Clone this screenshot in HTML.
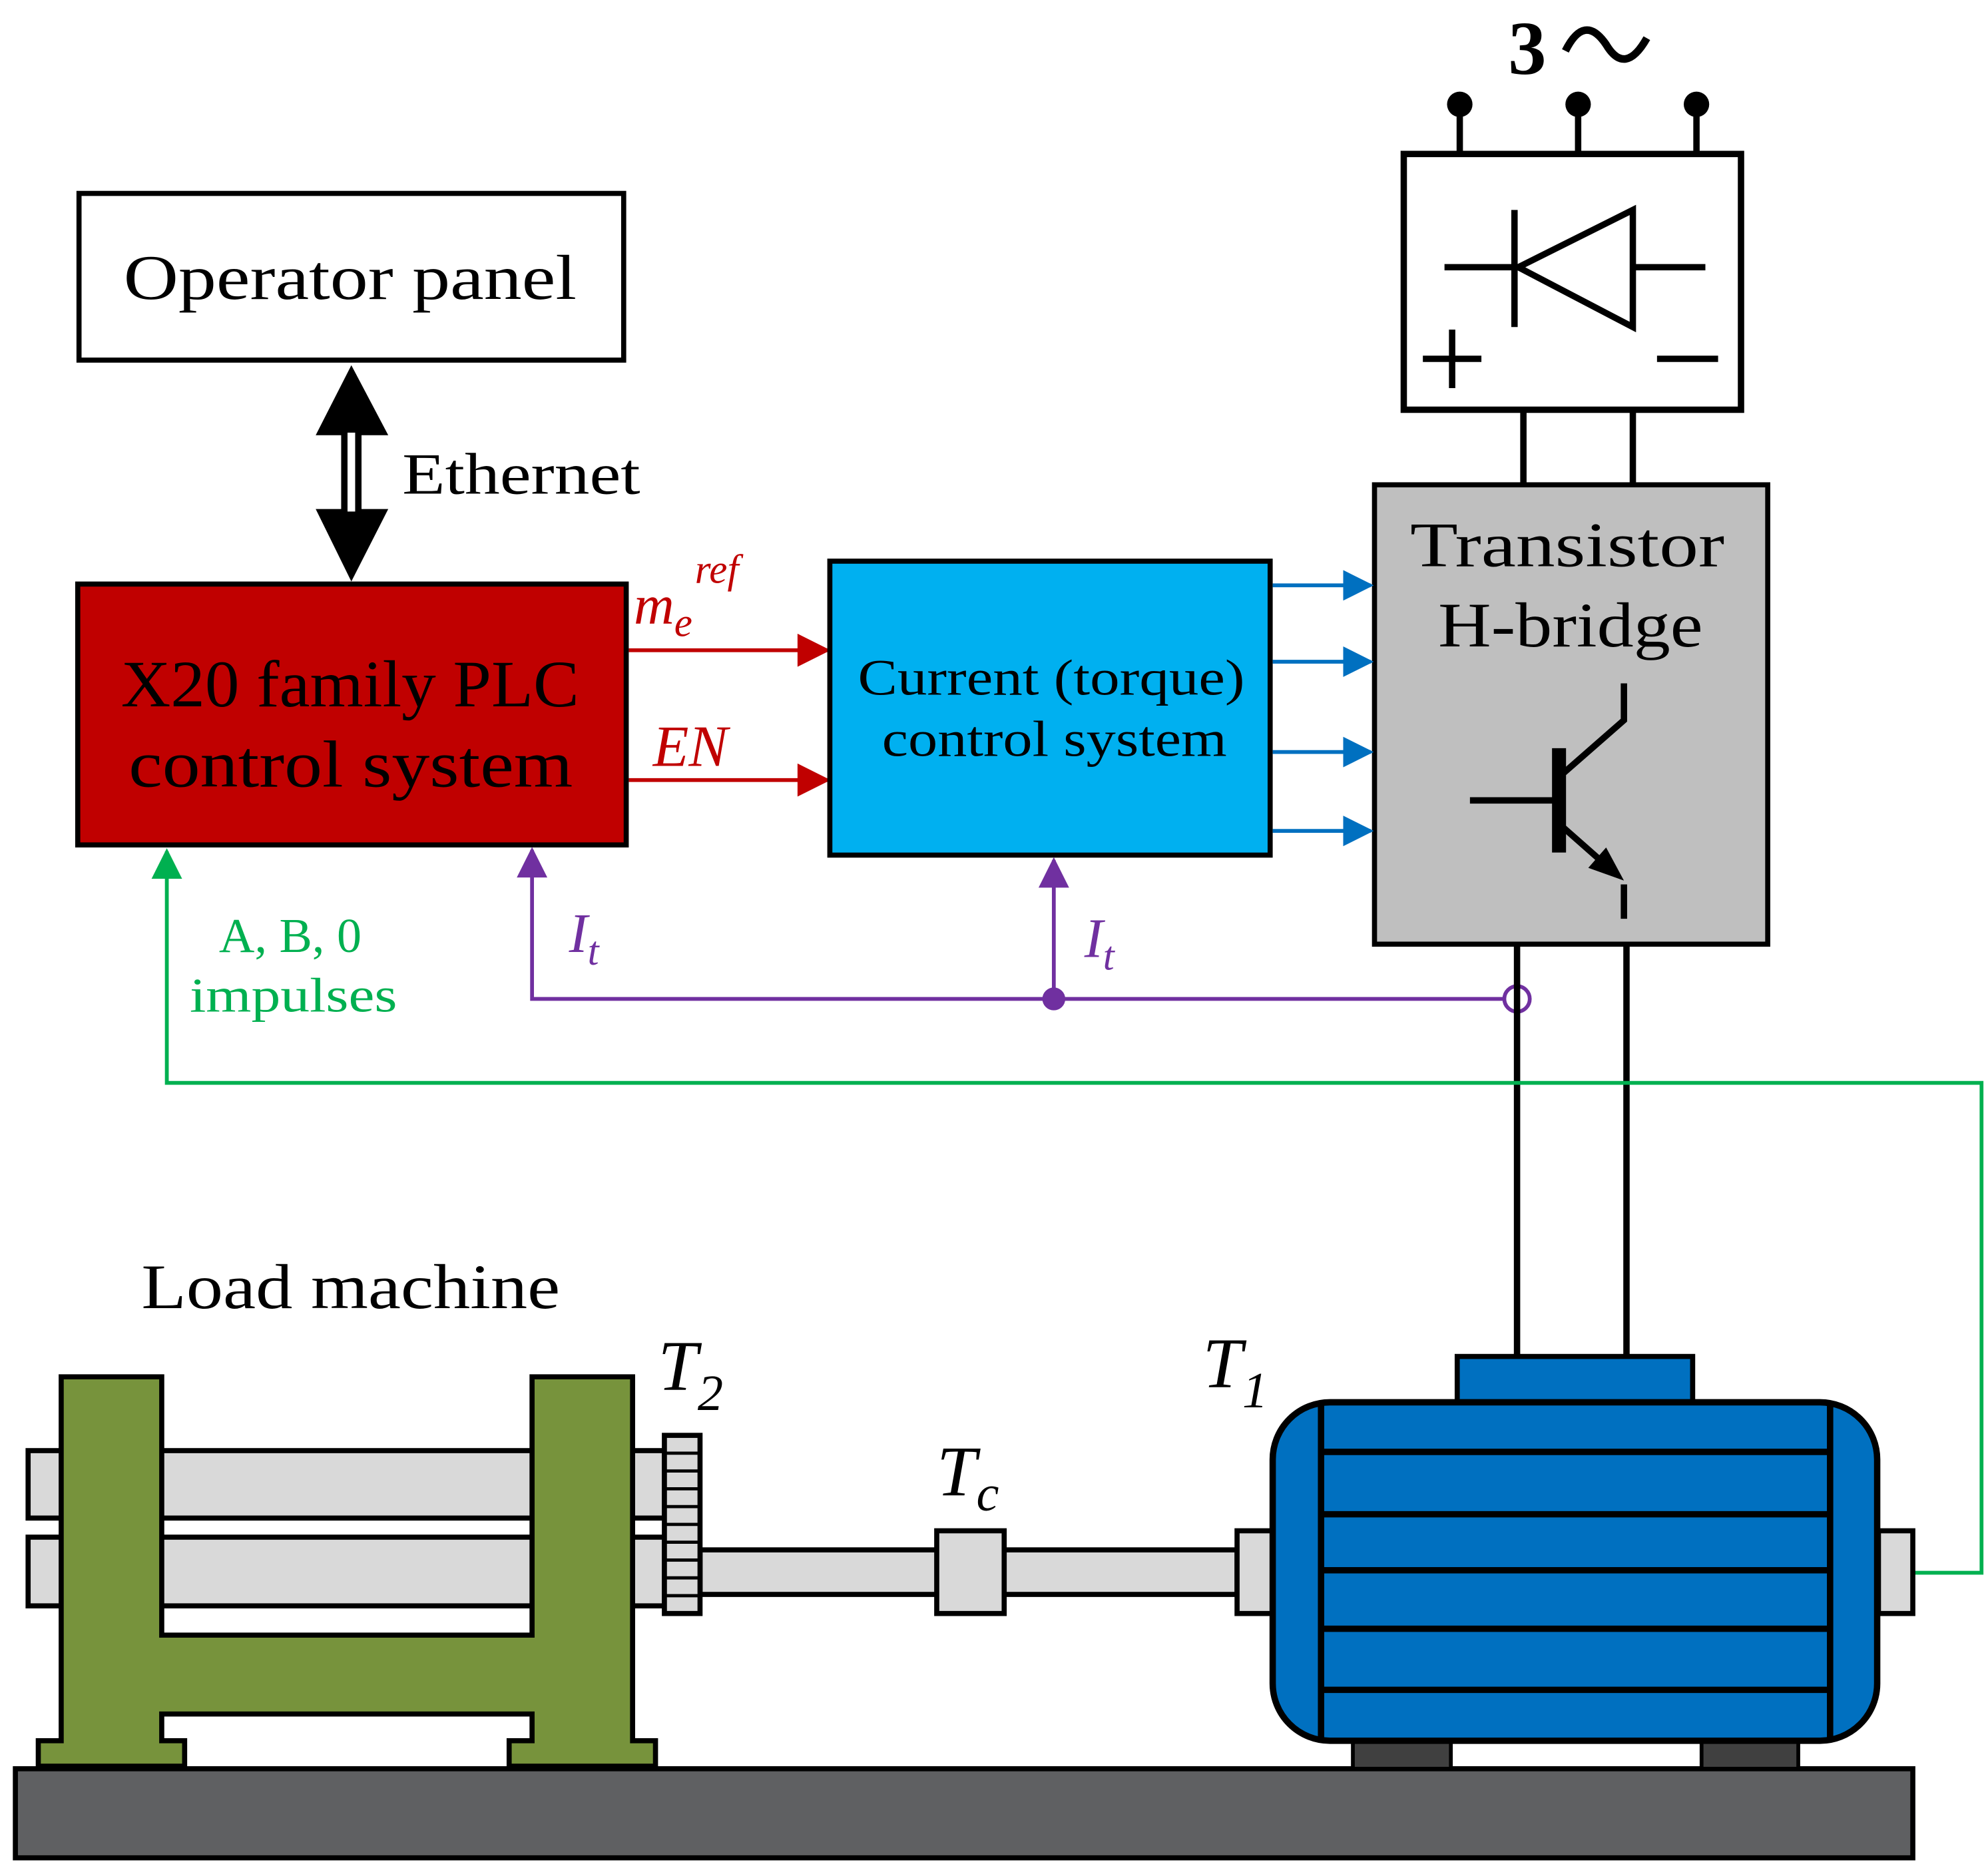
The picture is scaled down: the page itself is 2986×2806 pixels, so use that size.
<!DOCTYPE html>
<html><head><meta charset="utf-8"><style>html,body{margin:0;padding:0;background:#fff}svg{display:block}</style></head><body>
<svg width="2986" height="2806" viewBox="0 0 1562 1468" xmlns="http://www.w3.org/2000/svg" font-family="Liberation Serif, serif">
<defs>
<marker id="ar" viewBox="0 0 10 10" refX="9" refY="5" markerUnits="userSpaceOnUse" markerWidth="27" markerHeight="26" orient="auto"><path d="M0,0L10,5L0,10z" fill="#c00000"/></marker>
<marker id="ab" viewBox="0 0 10 10" refX="9" refY="5" markerUnits="userSpaceOnUse" markerWidth="26" markerHeight="24" orient="auto"><path d="M0,0L10,5L0,10z" fill="#0070c0"/></marker>
<marker id="ap" viewBox="0 0 10 10" refX="9" refY="5" markerUnits="userSpaceOnUse" markerWidth="26" markerHeight="24" orient="auto"><path d="M0,0L10,5L0,10z" fill="#7030a0"/></marker>
<marker id="ag" viewBox="0 0 10 10" refX="9" refY="5" markerUnits="userSpaceOnUse" markerWidth="26" markerHeight="24" orient="auto"><path d="M0,0L10,5L0,10z" fill="#00b050"/></marker>
</defs>
<!-- supply -->
<text x="1185" y="58" font-size="60" font-weight="bold">3</text>
<path d="M1230,40 q15,-30 32,-5 q15,25 32,-5" fill="none" stroke="#000" stroke-width="6"/>
<g stroke="#000" stroke-width="5">
<line x1="1147" y1="82" x2="1147" y2="121"/><line x1="1240" y1="82" x2="1240" y2="121"/><line x1="1333" y1="82" x2="1333" y2="121"/>
</g>
<circle cx="1147" cy="82" r="10"/><circle cx="1240" cy="82" r="10"/><circle cx="1333" cy="82" r="10"/>
<rect x="1103" y="121" width="265" height="201" fill="#fff" stroke="#000" stroke-width="5"/>
<g stroke="#000" stroke-width="5" fill="none">
<line x1="1135" y1="210" x2="1193" y2="210"/><line x1="1283" y1="210" x2="1340" y2="210"/>
<line x1="1190" y1="165" x2="1190" y2="257"/>
<path d="M1193,210L1283,165L1283,257Z"/>
<line x1="1118" y1="282" x2="1164" y2="282"/><line x1="1141" y1="259" x2="1141" y2="305"/>
<line x1="1302" y1="282" x2="1350" y2="282"/>
<line x1="1197" y1="322" x2="1197" y2="381"/><line x1="1283" y1="322" x2="1283" y2="381"/>
</g>
<!-- H-bridge -->
<rect x="1080" y="381" width="309" height="361" fill="#bfbfbf" stroke="#000" stroke-width="4"/>
<text x="1108" y="445" font-size="50" textLength="247" lengthAdjust="spacingAndGlyphs">Transistor</text>
<text x="1130" y="508" font-size="50" textLength="208" lengthAdjust="spacingAndGlyphs">H-bridge</text>
<g stroke="#000" stroke-width="5" fill="none">
<line x1="1155" y1="629" x2="1222" y2="629"/>
<line x1="1225" y1="588" x2="1225" y2="670" stroke-width="11"/>
<polyline points="1228,608 1276,566 1276,537"/>
<line x1="1228" y1="650" x2="1262" y2="680"/>
<line x1="1276" y1="695" x2="1276" y2="722"/>
</g>
<path d="M1276,692L1248,682L1262,666Z"/>
<!-- Operator panel -->
<rect x="62" y="152" width="428" height="131" fill="#fff" stroke="#000" stroke-width="4"/>
<text x="97" y="235" font-size="50" textLength="356" lengthAdjust="spacingAndGlyphs">Operator panel</text>
<path d="M276,287L305,342L248,342Z"/><path d="M276,457L305,400L248,400Z"/>
<rect x="268" y="340" width="16" height="62" fill="#000"/><rect x="273" y="340" width="6" height="62" fill="#fff"/>
<text x="316" y="388" font-size="46" textLength="187" lengthAdjust="spacingAndGlyphs">Ethernet</text>
<!-- PLC -->
<rect x="61" y="459" width="431" height="205" fill="#c00000" stroke="#000" stroke-width="4"/>
<text x="95" y="555" font-size="52" textLength="360" lengthAdjust="spacingAndGlyphs">X20 family PLC</text>
<text x="101" y="618" font-size="52" textLength="349" lengthAdjust="spacingAndGlyphs">control system</text>
<g stroke="#c00000" stroke-width="3">
<line x1="494" y1="511" x2="650" y2="511" marker-end="url(#ar)"/>
<line x1="494" y1="613" x2="650" y2="613" marker-end="url(#ar)"/>
</g>
<text x="498" y="490" font-size="44" font-style="italic" fill="#c00000">m<tspan font-size="32" dy="10">e</tspan><tspan font-size="32" dy="-42" dx="2">ref</tspan></text>
<text x="513" y="602" font-size="46" font-style="italic" fill="#c00000">EN</text>
<!-- Current control -->
<rect x="652" y="441" width="346" height="231" fill="#00b0f0" stroke="#000" stroke-width="4"/>
<text x="674" y="546" font-size="40" textLength="304" lengthAdjust="spacingAndGlyphs">Current (torque)</text>
<text x="693" y="594" font-size="40" textLength="271" lengthAdjust="spacingAndGlyphs">control system</text>
<g stroke="#0070c0" stroke-width="3">
<line x1="1000" y1="460" x2="1077" y2="460" marker-end="url(#ab)"/>
<line x1="1000" y1="520" x2="1077" y2="520" marker-end="url(#ab)"/>
<line x1="1000" y1="591" x2="1077" y2="591" marker-end="url(#ab)"/>
<line x1="1000" y1="653" x2="1077" y2="653" marker-end="url(#ab)"/>
</g>
<!-- purple -->
<g stroke="#7030a0" stroke-width="3" fill="none">
<line x1="828" y1="785" x2="828" y2="676" marker-end="url(#ap)"/>
<polyline points="1182,785 418,785 418,668" marker-end="url(#ap)"/>
<circle cx="1192" cy="785" r="10"/>
</g>
<circle cx="828" cy="785" r="9" fill="#7030a0"/>
<text x="447" y="748" font-size="44" font-style="italic" fill="#7030a0">I<tspan font-size="32" dy="10">t</tspan></text>
<text x="852" y="752" font-size="44" font-style="italic" fill="#7030a0">I<tspan font-size="32" dy="10">t</tspan></text>
<!-- motor supply -->
<g stroke="#000" stroke-width="5"><line x1="1192" y1="742" x2="1192" y2="1066"/><line x1="1278" y1="742" x2="1278" y2="1066"/></g>
<!-- green -->
<polyline points="1476,1236 1557,1236 1557,851 131,851 131,669" fill="none" stroke="#00b050" stroke-width="3" marker-end="url(#ag)"/>
<text x="172" y="748" font-size="38" fill="#00b050" textLength="112" lengthAdjust="spacingAndGlyphs">A, B, 0</text>
<text x="149" y="795" font-size="38" fill="#00b050" textLength="163" lengthAdjust="spacingAndGlyphs">impulses</text>
<text x="111" y="1028" font-size="50" textLength="329" lengthAdjust="spacingAndGlyphs">Load machine</text>
<!-- base -->
<rect x="12" y="1390" width="1491" height="70" fill="#5f6062" stroke="#000" stroke-width="4"/>
<!-- load machine -->
<g stroke="#000" stroke-width="4">
<rect x="22" y="1140" width="500" height="53" fill="#d9d9d9"/>
<rect x="22" y="1208" width="500" height="54" fill="#d9d9d9"/>
<path d="M48,1082H127V1285H418V1082H497V1368H515V1388H400V1368H418V1347H127V1368H145V1388H30V1368H48Z" fill="#77933c"/>
</g>
<rect x="550" y="1218" width="422" height="35" fill="#d9d9d9" stroke="#000" stroke-width="4"/>
<rect x="522" y="1128" width="28" height="140" fill="#d9d9d9" stroke="#000" stroke-width="4"/>
<g stroke="#000" stroke-width="2.5">
<line x1="522" y1="1142" x2="550" y2="1142"/><line x1="522" y1="1156" x2="550" y2="1156"/><line x1="522" y1="1170" x2="550" y2="1170"/><line x1="522" y1="1184" x2="550" y2="1184"/><line x1="522" y1="1198" x2="550" y2="1198"/><line x1="522" y1="1212" x2="550" y2="1212"/><line x1="522" y1="1226" x2="550" y2="1226"/><line x1="522" y1="1240" x2="550" y2="1240"/><line x1="522" y1="1254" x2="550" y2="1254"/>
</g>
<rect x="736" y="1203" width="53" height="65" fill="#d9d9d9" stroke="#000" stroke-width="4"/>
<rect x="972" y="1203" width="28" height="65" fill="#d9d9d9" stroke="#000" stroke-width="4"/>
<rect x="1476" y="1203" width="27" height="65" fill="#d9d9d9" stroke="#000" stroke-width="4"/>
<!-- motor -->
<rect x="1063" y="1366" width="77" height="24" fill="#404040" stroke="#000" stroke-width="3"/>
<rect x="1337" y="1366" width="76" height="24" fill="#404040" stroke="#000" stroke-width="3"/>
<rect x="1145" y="1066" width="185" height="38" fill="#0070c0" stroke="#000" stroke-width="4"/>
<rect x="1000" y="1102" width="475" height="266" rx="45" fill="#0070c0" stroke="#000" stroke-width="5"/>
<g stroke="#000" stroke-width="5">
<line x1="1038" y1="1104" x2="1038" y2="1366"/><line x1="1438" y1="1104" x2="1438" y2="1366"/>
<line x1="1038" y1="1141" x2="1438" y2="1141"/><line x1="1038" y1="1190" x2="1438" y2="1190"/><line x1="1038" y1="1234" x2="1438" y2="1234"/><line x1="1038" y1="1280" x2="1438" y2="1280"/><line x1="1038" y1="1328" x2="1438" y2="1328"/>
</g>
<text x="945" y="1090" font-size="56" font-style="italic">T<tspan font-size="40" dy="16">1</tspan></text>
<text x="517" y="1092" font-size="56" font-style="italic">T<tspan font-size="40" dy="16">2</tspan></text>
<text x="736" y="1175" font-size="56" font-style="italic">T<tspan font-size="40" dy="12">c</tspan></text>
</svg>
</body></html>
